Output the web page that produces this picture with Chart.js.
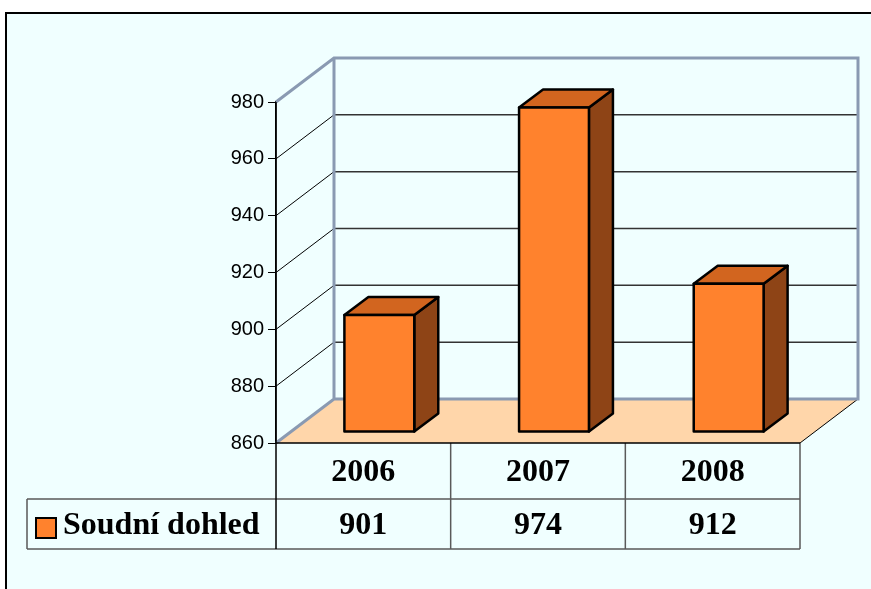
<!DOCTYPE html>
<html>
<head>
<meta charset="utf-8">
<script src="https://cdn.jsdelivr.net/npm/chart.js@4"></script>
<style>
  html, body { margin: 0; padding: 0; background: #fff; }
  canvas { display: block; }
</style>
</head>
<body>
<canvas id="barChart" width="871" height="589"></canvas>
<script>
const years = ['2006', '2007', '2008'];
const soudniDohled = [901, 974, 912];
const seriesName = 'Soudní dohled';
const yTicks = [860, 880, 900, 920, 940, 960, 980];

// 3d look
const WALL_DX = 58, WALL_DY = -44;
const BAR_OX = 16, BAR_OY = -11.5;
const BAR_DX = 24, BAR_DY = -18;
const edgeBlue = '#8a9ab2';

const scene3d = {
    id: 'scene3d',
    beforeDraw(chart) {
        const c = chart.ctx;
        c.save();
        c.fillStyle = '#ffffff';
        c.fillRect(0, 0, chart.width, chart.height);
        c.fillStyle = '#f0ffff';
        c.fillRect(6, 13, chart.width - 6, chart.height - 13);
        c.strokeStyle = '#000';
        c.lineWidth = 2;
        c.beginPath();
        c.moveTo(6, chart.height);
        c.lineTo(6, 13);
        c.lineTo(chart.width, 13);
        c.stroke();
        c.restore();
    },
    beforeDatasetsDraw(chart) {
        const c = chart.ctx;
        const a = chart.chartArea;
        const y = chart.scales.y;
        const L = a.left, R = a.right, B = a.bottom, T = a.top;
        c.save();

        // floor
        c.fillStyle = '#ffd6aa';
        c.beginPath();
        c.moveTo(L, B);
        c.lineTo(R, B);
        c.lineTo(R + WALL_DX, B + WALL_DY);
        c.lineTo(L + WALL_DX, B + WALL_DY);
        c.closePath();
        c.fill();
        c.strokeStyle = '#000';
        c.lineWidth = 1;
        c.beginPath();
        c.moveTo(R, B);
        c.lineTo(R + WALL_DX, B + WALL_DY);
        c.stroke();

        // grid on back wall and side wall
        yTicks.forEach(v => {
            const py = y.getPixelForValue(v);
            if (v === yTicks[0] || v === yTicks[yTicks.length - 1]) return;
            c.strokeStyle = '#333';
            c.lineWidth = 1.5;
            c.beginPath();
            c.moveTo(L + WALL_DX, py + WALL_DY);
            c.lineTo(R + WALL_DX, py + WALL_DY);
            c.stroke();
            c.strokeStyle = '#000';
            c.lineWidth = 1;
            c.beginPath();
            c.moveTo(L, py);
            c.lineTo(L + WALL_DX, py + WALL_DY);
            c.stroke();
        });

        // wall edges
        c.strokeStyle = edgeBlue;
        c.lineWidth = 3;
        c.beginPath();
        c.moveTo(L, T);
        c.lineTo(L + WALL_DX, T + WALL_DY);
        c.lineTo(R + WALL_DX, T + WALL_DY);
        c.lineTo(R + WALL_DX, B + WALL_DY);
        c.lineTo(L + WALL_DX, B + WALL_DY);
        c.lineTo(L, B);
        c.moveTo(L + WALL_DX, T + WALL_DY);
        c.lineTo(L + WALL_DX, B + WALL_DY);
        c.stroke();
        c.restore();
    },
    afterDatasetsDraw(chart) {
        const c = chart.ctx;
        const meta = chart.getDatasetMeta(0);
        const floorY = chart.scales.y.getPixelForValue(yTicks[0]);
        c.save();
        c.lineWidth = 2.5;
        c.lineJoin = 'round';
        c.strokeStyle = '#000';
        meta.data.forEach(bar => {
            const l = bar.x - bar.width / 2 + BAR_OX;
            const r = bar.x + bar.width / 2 + BAR_OX;
            const t = bar.y + BAR_OY;
            const b = floorY + BAR_OY;
            // side
            c.fillStyle = '#8e4416';
            c.beginPath();
            c.moveTo(r, t);
            c.lineTo(r + BAR_DX, t + BAR_DY);
            c.lineTo(r + BAR_DX, b + BAR_DY);
            c.lineTo(r, b);
            c.closePath();
            c.fill();
            c.stroke();
            // top
            c.fillStyle = '#d2651f';
            c.beginPath();
            c.moveTo(l, t);
            c.lineTo(r, t);
            c.lineTo(r + BAR_DX, t + BAR_DY);
            c.lineTo(l + BAR_DX, t + BAR_DY);
            c.closePath();
            c.fill();
            c.stroke();
            // front
            c.fillStyle = '#ff822d';
            c.fillRect(l, t, r - l, b - t);
            c.strokeRect(l, t, r - l, b - t);
        });
        c.restore();
    },
    afterDraw(chart) {
        // data table under the plot
        const c = chart.ctx;
        const a = chart.chartArea;
        const x = chart.scales.x;
        const row1 = a.bottom, row2 = 499, row3 = 549;
        const step = (a.right - a.left) / years.length;
        c.save();
        c.strokeStyle = '#5a5a5a';
        c.lineWidth = 1.5;
        c.beginPath();
        c.moveTo(27, row2); c.lineTo(a.right, row2);
        c.moveTo(27, row3); c.lineTo(a.right, row3);
        c.moveTo(27, row2); c.lineTo(27, row3);
        for (let i = 1; i <= years.length; i++) {
            c.moveTo(a.left + step * i, row1);
            c.lineTo(a.left + step * i, row3);
        }
        c.stroke();
        c.strokeStyle = '#000';
        c.lineWidth = 1.5;
        c.beginPath();
        c.moveTo(a.left, row1); c.lineTo(a.right, row1);
        c.moveTo(a.left, a.top);
        c.lineTo(a.left, row3);
        c.stroke();

        c.fillStyle = '#000';
        c.font = 'bold 32px "Liberation Serif", "Times New Roman", serif';
        c.textAlign = 'center';
        c.textBaseline = 'middle';
        years.forEach((yr, i) => {
            const cx = x.getPixelForValue(i);
            c.fillText(yr, cx, (row1 + row2) / 2 + 2);
            c.fillText(String(soudniDohled[i]), cx, (row2 + row3) / 2 + 2);
        });
        // legend key
        c.fillStyle = '#ff822d';
        c.fillRect(36, 518, 20, 20);
        c.strokeStyle = '#000';
        c.lineWidth = 2;
        c.strokeRect(36, 518, 20, 20);
        c.fillStyle = '#000';
        c.textAlign = 'left';
        c.fillText(seriesName, 63, (row2 + row3) / 2 + 2);
        c.restore();
    }
};

document.addEventListener('DOMContentLoaded', function() {
    const ctx = document.getElementById('barChart');

    new Chart(ctx, {
        type: 'bar',
        data: {
            labels: years,
            datasets: [{
                label: seriesName,
                data: soudniDohled,
                backgroundColor: 'rgba(0,0,0,0)',
                borderWidth: 0,
                barPercentage: 0.4,
                categoryPercentage: 1
            }]
        },
        options: {
            responsive: false,
            animation: false,
            devicePixelRatio: 1,
            layout: {
                padding: { left: 216, right: 71, top: 102, bottom: 146 }
            },
            plugins: {
                legend: { display: false },
                tooltip: { enabled: false }
            },
            scales: {
                x: { display: false },
                y: {
                    min: yTicks[0],
                    max: yTicks[yTicks.length - 1],
                    afterFit: function(scale) { scale.width = 60; },
                    afterBuildTicks: function(scale) {
                        scale.ticks = yTicks.map(v => ({ value: v }));
                    },
                    grid: {
                        drawOnChartArea: false,
                        drawTicks: true,
                        tickLength: 8,
                        color: '#000',
                        lineWidth: 1
                    },
                    border: { display: true, color: '#000', width: 1.5 },
                    ticks: {
                        padding: 4,
                        color: '#000',
                        font: { family: '"Liberation Sans", Arial, sans-serif', size: 20 }
                    }
                }
            }
        },
        plugins: [scene3d]
    });
});
</script>
</body>
</html>
